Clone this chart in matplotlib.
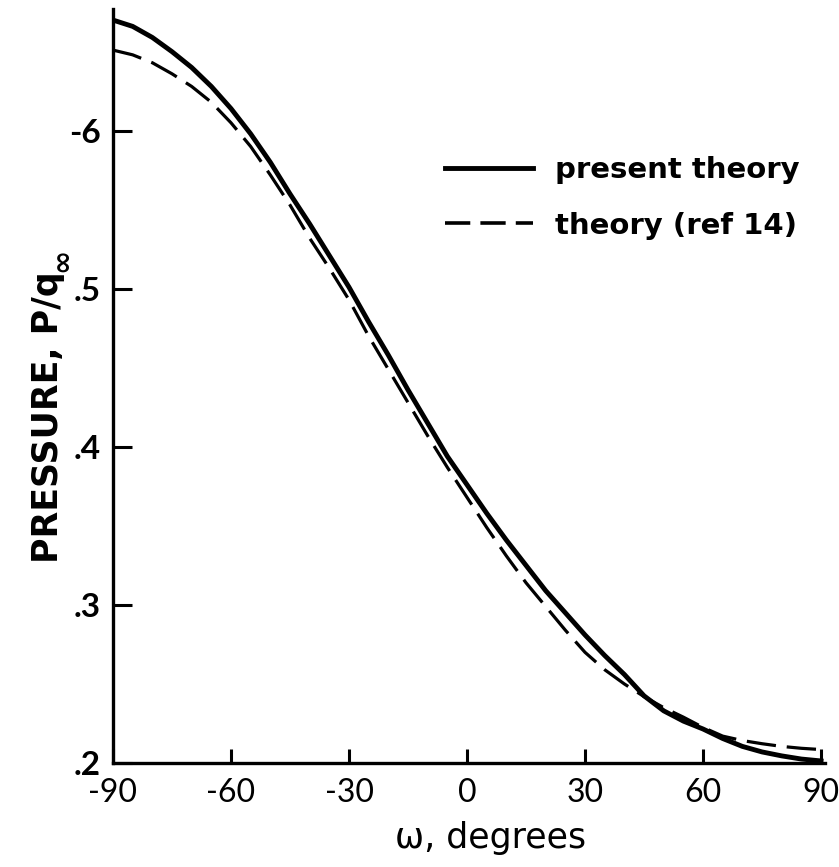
import numpy as np
import matplotlib.pyplot as plt
from matplotlib.lines import Line2D

# angle, degrees
omega = [-90, -85, -80, -75, -70, -65, -60, -55, -50, -45, -40, -35, -30,
         -25, -20, -15, -10, -5, 0, 5, 10, 15, 20, 25, 30, 35, 40, 45,
         50, 55, 60, 65, 70, 75, 80, 85, 90]

# pressure P/q_inf, present theory (solid)
p_present = [0.670, 0.666, 0.659, 0.650, 0.640, 0.628, 0.614, 0.598, 0.580,
             0.560, 0.541, 0.521, 0.501, 0.479, 0.458, 0.436, 0.415, 0.394,
             0.376, 0.358, 0.341, 0.325, 0.309, 0.295, 0.281, 0.268, 0.256,
             0.2425, 0.233, 0.2265, 0.2215, 0.2155, 0.2105, 0.207, 0.2045,
             0.2025, 0.2013]

# pressure P/q_inf, theory (ref 14) (dashed)
p_ref14 = [0.651, 0.648, 0.643, 0.636, 0.628, 0.618, 0.605, 0.590, 0.572,
           0.553, 0.532, 0.513, 0.493, 0.470, 0.449, 0.428, 0.407, 0.387,
           0.368, 0.349, 0.331, 0.314, 0.299, 0.284, 0.270, 0.259, 0.250,
           0.242, 0.235, 0.229, 0.2225, 0.217, 0.2142, 0.2122, 0.2105,
           0.2093, 0.2085]

x_ticks = [-90, -60, -30, 0, 30, 60, 90]
y_ticks = [0.2, 0.3, 0.4, 0.5, 0.6]
y_ticklabels = ['.2', '.3', '.4', '.5', '-6']

plt.rcParams['font.family'] = ['Lato', 'DejaVu Sans']

fig = plt.figure(figsize=(8.39, 8.67), dpi=100)
ax = fig.add_axes([113 / 839, 104 / 867, 712 / 839, 754 / 867])

ax.plot(omega, p_present, color='black', lw=3.5)
ax.plot(omega, p_ref14, color='black', lw=2.3, dashes=(9.2, 3.4))

ax.set_xlim(-90, 91)
ax.set_ylim(0.2, 0.677)

ax.set_xticks(x_ticks)
ax.set_xticklabels([str(v) for v in x_ticks])
ax.set_yticks(y_ticks)
ax.set_yticklabels(y_ticklabels, fontweight='bold')

ax.tick_params(axis='x', direction='in', length=10, width=2.2, pad=11,
               labelsize=23)
ax.tick_params(axis='y', direction='in', length=14, width=2.2, pad=9,
               labelsize=24)

for side in ['top', 'right']:
    ax.spines[side].set_visible(False)
for side in ['left', 'bottom']:
    ax.spines[side].set_linewidth(2.4)

ax.set_xlabel('ω, degrees', fontsize=25, family=['DejaVu Sans'])
ax.xaxis.set_label_coords(0.53, -0.077)
ax.xaxis.label.set_va('top')

# y label, with a large subscript infinity placed after it
ylab = ax.set_ylabel('PRESSURE, P/q', fontsize=25, fontweight='bold',
                     family=['DejaVu Sans'])
ylab.set_ha('left')
ax.yaxis.set_label_coords(-0.068, 0.265)
ax.annotate('∞', xy=(0.93, 1.0), xycoords=ylab, rotation=90,
            ha='center', va='bottom', fontsize=21, fontweight='bold',
            family=['DejaVu Sans'])

# legend handles drawn like the printed key
handles = [Line2D([], [], color='black', lw=3.5),
           Line2D([], [], color='black', lw=2.6, dashes=(7.0, 2.8))]
labels = ['present theory', 'theory (ref 14)']
ax.legend(handles, labels, loc='upper left', bbox_to_anchor=(0.43, 0.84),
          frameon=False, handlelength=3.0, handletextpad=0.75,
          labelspacing=0.95,
          prop={'family': 'DejaVu Sans', 'weight': 'bold', 'size': 21})

fig.savefig('out.png', dpi=100)
